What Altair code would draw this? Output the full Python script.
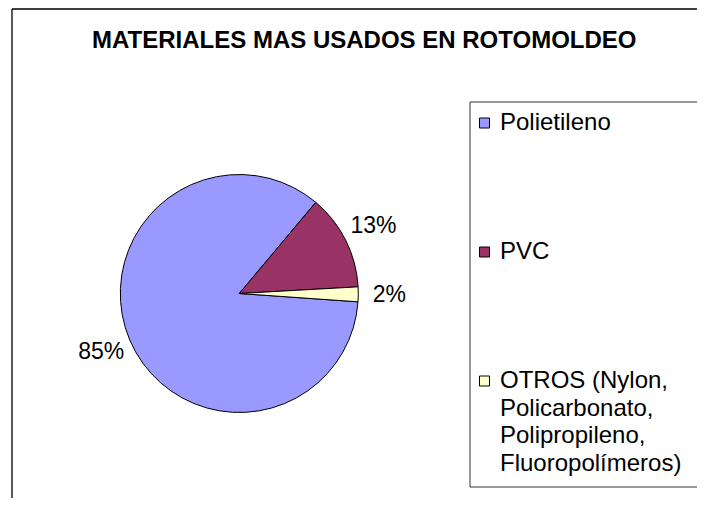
import math
import altair as alt
import pandas as pd

# ---- data ----
materiales = [
    "Polietileno",
    "PVC",
    "OTROS (Nylon, Policarbonato, Polipropileno, Fluoropolímeros)",
]
porcentajes = [85, 13, 2]
leyenda = [
    "Polietileno",
    "PVC",
    "OTROS (Nylon,\nPolicarbonato,\nPolipropileno,\nFluoropolímeros)",
]
colores = ["#9999FF", "#993366", "#FFFFCC"]
titulo = "MATERIALES MAS USADOS EN ROTOMOLDEO"

df = pd.DataFrame({
    "material": materiales,
    "valor": porcentajes,
    "leyenda": leyenda,
    "orden": list(range(len(materiales))),
})
df["etiqueta"] = df["valor"].astype(str) + "%"

FONT = "Liberation Sans"
W, H = 690, 490
XR = W - 1
CX, CY = 231.3, 285.5
R = 119
start = math.radians(94)

theta_scale = alt.Scale(range=[start, start + 2 * math.pi])
color_scale = alt.Scale(domain=materiales, range=colores)
legend_y = alt.Scale(type="point", domain=materiales, range=[115, 373], padding=0)

base = alt.Chart(df)

pie = base.mark_arc(outerRadius=R, stroke="black", strokeWidth=1).encode(
    theta=alt.Theta("valor:Q", stack=True, scale=theta_scale),
    color=alt.Color("material:N", scale=color_scale, legend=None),
    order=alt.Order("orden:Q"),
    x=alt.value(CX),
    y=alt.value(CY),
)

labels = base.mark_text(font=FONT, fontSize=23, radius=150, color="black").encode(
    theta=alt.Theta("valor:Q", stack=True, scale=theta_scale),
    detail="material:N",
    order=alt.Order("orden:Q"),
    text="etiqueta:N",
    x=alt.value(CX),
    y=alt.value(CY),
)

one = alt.Data(values=[{"k": 1}])
outer_top = alt.Chart(one).mark_rule(stroke="#000000", strokeWidth=1.3, strokeCap="butt").encode(
    x=alt.value(4), x2=alt.value(XR), y=alt.value(1)
)
outer_left = alt.Chart(one).mark_rule(stroke="#000000", strokeWidth=1.3).encode(
    x=alt.value(4), y=alt.value(1), y2=alt.value(H)
)
box_top = alt.Chart(one).mark_rule(stroke="#333333", strokeWidth=1, strokeCap="butt").encode(
    x=alt.value(462), x2=alt.value(XR), y=alt.value(94)
)
box_bottom = alt.Chart(one).mark_rule(stroke="#333333", strokeWidth=1, strokeCap="butt").encode(
    x=alt.value(462), x2=alt.value(XR), y=alt.value(479)
)
box_left = alt.Chart(one).mark_rule(stroke="#333333", strokeWidth=1).encode(
    x=alt.value(462), y=alt.value(94), y2=alt.value(479)
)

sym = base.mark_square(size=100, stroke="black", strokeWidth=1, opacity=1).encode(
    x=alt.value(476.5),
    y=alt.Y("material:N", scale=legend_y, axis=None),
    color=alt.Color("material:N", scale=color_scale, legend=None),
)

ltext = base.mark_text(
    align="left", baseline="top", dy=-12, font=FONT, fontSize=24,
    lineBreak="\n", lineHeight=27.6, color="black",
).encode(
    x=alt.value(492),
    y=alt.Y("material:N", scale=legend_y, axis=None),
    text="leyenda:N",
)

chart = alt.layer(
    outer_top, outer_left, box_top, box_bottom, box_left, pie, labels, sym, ltext
).properties(
    width=W,
    height=H,
    autosize=alt.AutoSizeParams(type="none"),
    padding=0,
    background="white",
    title=alt.TitleParams(
        titulo, font=FONT, fontSize=24, fontWeight="bold", anchor="start",
        offset=0, dy=64, dx=84, baseline="alphabetic", color="black",
    ),
).configure_view(stroke=None)

chart.save("out.html", embed_options={"renderer": "svg", "actions": False})
